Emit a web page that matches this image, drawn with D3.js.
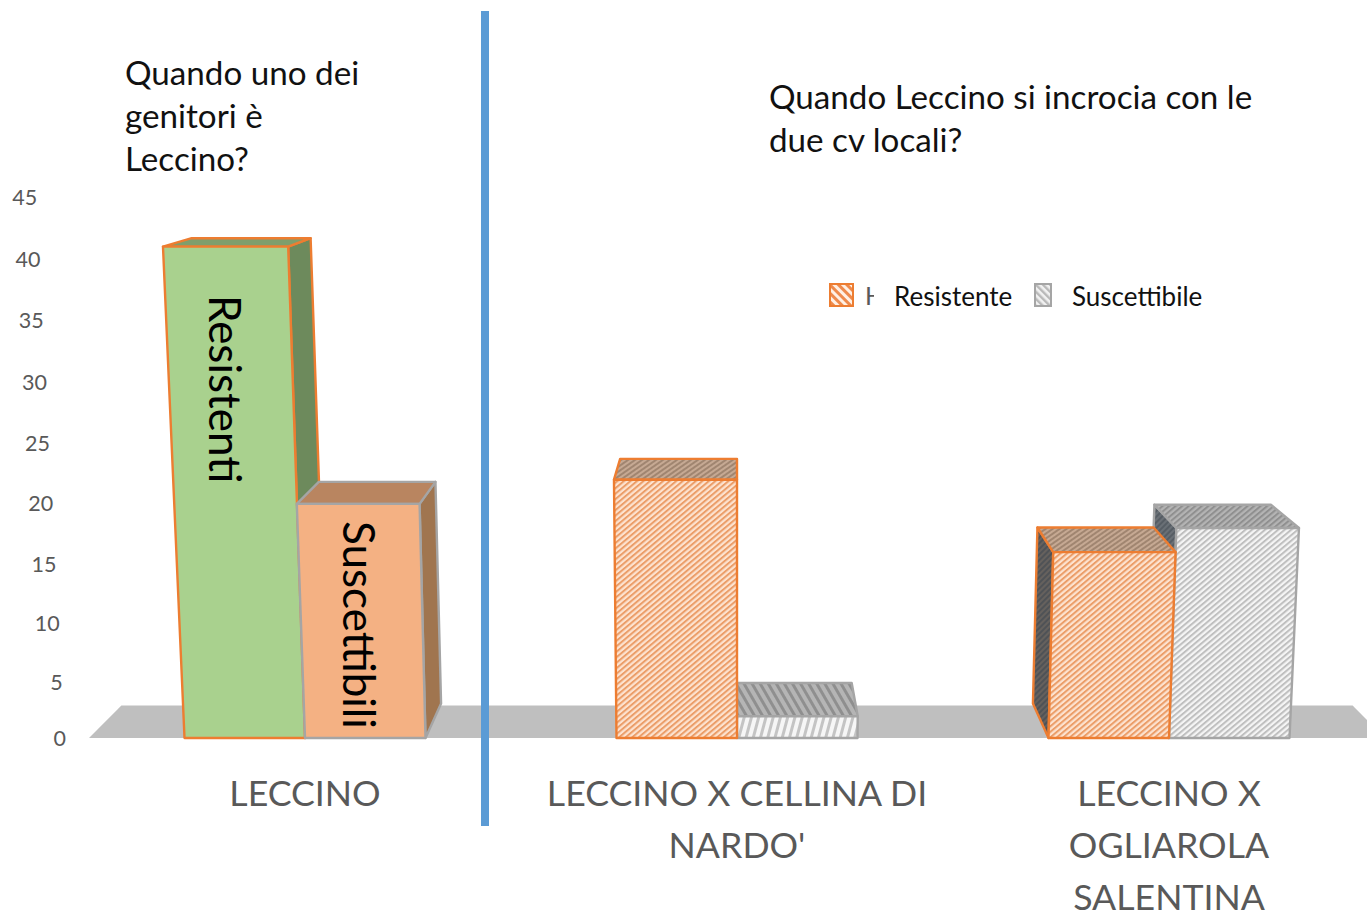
<!DOCTYPE html>
<html><head><meta charset="utf-8">
<script src="https://cdn.jsdelivr.net/npm/d3@7/dist/d3.min.js"></script>
<style>html,body{margin:0;padding:0;background:#fff;overflow:hidden}svg{display:block}text{font-family:Lato,"Open Sans",sans-serif}</style>
</head><body><div id="c"></div>
<script>
const categories = ["LECCINO", "LECCINO X CELLINA DI NARDO'", "LECCINO X OGLIAROLA SALENTINA"];
const categoryLines = [["LECCINO"], ["LECCINO X CELLINA DI", "NARDO'"], ["LECCINO X", "OGLIAROLA", "SALENTINA"]];
const seriesNames = ["Resistente", "Suscettibile"];
const resistente = [41, 22, 16];
const suscettibile = [20, 2, 18];
const tickValues = [0, 5, 10, 15, 20, 25, 30, 35, 40, 45];
const barLabels = ["Resistenti", "Suscettibili"];

const W = 1367, H = 914;
const svg = d3.select("#c").append("svg").attr("width", W).attr("height", H);
const defs = svg.append("defs");
function hatch(id, bg, fg, period, sw, angle) {
  const p = defs.append("pattern").attr("id", id).attr("patternUnits", "userSpaceOnUse")
    .attr("width", period).attr("height", period)
    .attr("patternTransform", `rotate(${angle})`);
  p.append("rect").attr("width", period).attr("height", period).attr("fill", bg);
  p.append("rect").attr("width", sw).attr("height", period).attr("fill", fg);
}
hatch("oF", "#fde3d0", "#eb9d68", 4.2, 2, 50);
hatch("oT", "#c6a993", "#a08570", 4, 2, 55);
hatch("oS", "#4f5256", "#66615d", 4, 2, 45);
hatch("gF", "#f5f5f5", "#bfbfbf", 4.2, 2, 50);
hatch("gT", "#b4b4b4", "#8f8f8f", 4.2, 2, 50);
hatch("gS", "#565d64", "#6a7076", 4, 2, 45);
hatch("gF2", "#f6f6f6", "#c4c4c4", 7, 3, 15);
hatch("gT2", "#b5b5b5", "#8f8f8f", 7, 3, -30);
hatch("oL", "#fff0e4", "#ee8a4c", 6, 3, -45);
hatch("gL", "#f2f2f2", "#b8b8b8", 5, 2.4, -45);

// scales
const y = d3.scalePow().exponent(1.033).domain([0, 45]).range([738, 197]);
const x0 = d3.scaleBand().domain(categories).range([89, 1385]);
const cx = 737, vy = 88, depth = 0.95, depthY = 0.947, spread = 0.00095;
const fx = (x, v) => cx + (x - cx) * (1 + spread * v);
const backX = x => cx + (x - cx) * depth;
const backY = yy => vy + (yy - vy) * depthY;
const pts = a => a.map(p => p.join(",")).join(" ");

// floor
const [fl, fr] = x0.range();
const floorBack = vy + (y(0) - vy) * depth;
svg.append("polygon").attr("fill", "#bfbfbf").attr("points", pts([
  [fl, y(0)], [backX(fl), floorBack], [backX(fr), floorBack], [fr, y(0)]
]));

// bars
const values = [resistente, suscettibile];
const solid = [
  {front:"#a9d18e", top:"#7f9e6c", side:"#6d8a5c"},
  {front:"#f4b183", top:"#b98560", side:"#a0754f"}
];
const hatched = [
  {front:"url(#oF)", top:"url(#oT)", side:"url(#oS)"},
  {front:"url(#gF)", top:"url(#gT)", side:"url(#gS)"}
];
const strokes = ["#ed7d31", "#a5a5a5"];
const bars = [];
categories.forEach((c, ci) => {
  const mid = x0(c) + x0.bandwidth() / 2;
  const xs = d3.scaleBand().domain(seriesNames).range([mid - 120.5, mid + 120.5]);
  seriesNames.forEach((s, si) => {
    bars.push({ci, si, v: values[si][ci], x1: xs(s), x2: xs(s) + xs.bandwidth()});
  });
});
// painter order: farthest from the vanishing axis first
bars.sort((a, b) => Math.abs(b.x1 + b.x2 - 2 * cx) - Math.abs(a.x1 + a.x2 - 2 * cx) || b.si - a.si);
const g = svg.append("g").attr("stroke-linejoin", "round");
bars.forEach(b => {
  const st = b.ci === 0 ? solid[b.si] : hatched[b.si];
  let front = st.front, top = st.top, side = st.side;
  if (b.ci === 1 && b.si === 1) { front = "url(#gF2)"; top = "url(#gT2)"; }
  const col = strokes[b.si];
  const y0 = y(0), yt = y(b.v);
  const tl = [fx(b.x1, b.v), yt], tr = [fx(b.x2, b.v), yt];
  const bl = [b.x1, y0], br = [b.x2, y0];
  const B = p => [backX(p[0]), backY(p[1])];
  const attrs = (sel, f) => sel.attr("fill", f).attr("stroke", col).attr("stroke-width", 2.4);
  if (b.x2 < cx - 1) attrs(g.append("polygon"), side).attr("points", pts([tr, B(tr), B(br), br]));
  if (b.x1 > cx + 1) attrs(g.append("polygon"), side).attr("points", pts([tl, B(tl), B(bl), bl]));
  attrs(g.append("polygon"), top).attr("points", pts([tl, B(tl), B(tr), tr]));
  attrs(g.append("polygon"), front).attr("points", pts([tl, tr, br, bl]));
});

// y axis: labels recede with the perspective
const axis = d3.axisLeft(y).tickValues(tickValues).tickSize(0).tickPadding(0);
const ag = svg.append("g").call(axis);
ag.select(".domain").remove();
ag.selectAll(".tick").attr("transform", d => `translate(${fx(66, d)},${y(d)})`);
ag.selectAll("text").attr("x", 0).attr("dy", "0.35em").attr("fill", "#595959")
  .style("font-size", "21.5px").style("font-family", "Lato");

// category labels
categories.forEach((c, i) => {
  const mid = x0(c) + x0.bandwidth() / 2;
  categoryLines[i].forEach((l, j) => {
    svg.append("text").attr("x", mid).attr("y", 806 + j * 52).attr("text-anchor", "middle")
      .attr("fill", "#595959").style("font-size", "35.7px").text(l);
  });
});

// rotated labels on the first bars
[[barLabels[0], 209, 295], [barLabels[1], 343, 521]].forEach(([t, xx, yy]) => {
  svg.append("text").attr("transform", `translate(${xx},${yy}) rotate(90)`)
    .attr("fill", "#000").style("font-size", "44px").text(t);
});

// separator
svg.append("rect").attr("x", 481).attr("y", 11).attr("width", 8).attr("height", 815).attr("fill", "#5b9bd5");

// annotations
[["Quando uno dei", 125, 85], ["genitori è", 125, 128], ["Leccino?", 125, 171],
 ["Quando Leccino si incrocia con le", 769, 109], ["due cv locali?", 769, 152]].forEach(([t, xx, yy]) => {
  svg.append("text").attr("x", xx).attr("y", yy).attr("fill", "#111").style("font-size", "33.2px").text(t);
});

// legend
svg.append("rect").attr("x", 830).attr("y", 284).attr("width", 23).attr("height", 22)
  .attr("fill", "url(#oL)").attr("stroke", "#ed7d31").attr("stroke-width", 2);
defs.append("clipPath").attr("id", "hclip").append("rect").attr("x", 860).attr("y", 280).attr("width", 14).attr("height", 30);
svg.append("text").attr("x", 865).attr("y", 305).attr("fill", "#595959").attr("clip-path", "url(#hclip)")
  .style("font-size", "25px").text("H");
svg.append("text").attr("x", 894).attr("y", 306).attr("fill", "#111").style("font-size", "26px").text(seriesNames[0]);
svg.append("rect").attr("x", 1035).attr("y", 284).attr("width", 16).attr("height", 22)
  .attr("fill", "url(#gL)").attr("stroke", "#a5a5a5").attr("stroke-width", 2);
svg.append("text").attr("x", 1072).attr("y", 306).attr("fill", "#111").style("font-size", "26px").text(seriesNames[1]);
</script></body></html>
